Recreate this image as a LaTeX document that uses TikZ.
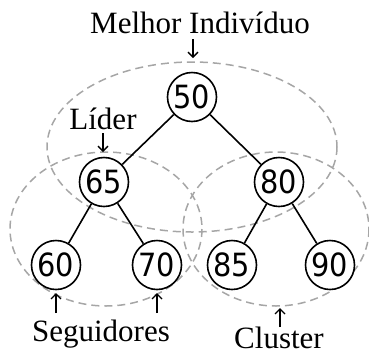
\documentclass[tikz,border=0pt]{standalone}
\usepackage{fontspec}
\setmainfont{Liberation Serif}
\newfontfamily\numfont[FakeStretch=0.9]{DejaVu Sans}
\usetikzlibrary{arrows.meta}
\begin{document}
\begin{tikzpicture}[x=1pt,y=-1pt,
  num/.style={circle,draw=black,line width=1.6pt,fill=white,inner sep=0pt,minimum size=49pt,
    font=\numfont\fontsize{32}{32}\selectfont},
  grp/.style={draw=black!35,dash pattern=on 8pt off 5pt,line width=1.5pt},
  edge/.style={draw=black,line width=1.6pt},
  lbl/.style={anchor=base,inner sep=0pt,font=\fontsize{31}{31}\selectfont},
  ptr/.style={draw=black,line width=1.4pt,-{Straight Barb[length=5pt,width=10pt]}}]
\useasboundingbox (0,0) rectangle (369,354);
% groups
\draw[grp] (192,147) ellipse [x radius=145, y radius=85];
\draw[grp] (106,229) ellipse [x radius=96, y radius=77];
\draw[grp] (276,229) ellipse [x radius=93, y radius=77];
% nodes
\node[num] (n50) at (192,97) {50};
\node[num] (n65) at (104,182) {65};
\node[num] (n80) at (279,182) {80};
\node[num] (n60) at (56,265) {60};
\node[num] (n70) at (157,265) {70};
\node[num] (n85) at (232,265) {85};
\node[num] (n90) at (330,265) {90};
% edges
\draw[edge] (n50) -- (n65);
\draw[edge] (n50) -- (n80);
\draw[edge] (n65) -- (n60);
\draw[edge] (n65) -- (n70);
\draw[edge] (n80) -- (n85);
\draw[edge] (n80) -- (n90);
% labels
\node[lbl] (best) at (200,33) {Melhor Indivíduo};
\node[lbl] (lider) at (103,129) {Líder};
\node[lbl] (seg) at (101,341) {Seguidores};
\node[lbl] (clu) at (279,348) {Cluster};
% pointers
\coordinate (b1) at (193,39); \coordinate (b2) at (193,58);
\coordinate (l1) at (103,133); \coordinate (l2) at (103,152);
\coordinate (s1) at (56,313); \coordinate (s2) at (56,293);
\coordinate (t1) at (157,313); \coordinate (t2) at (157,293);
\coordinate (c1) at (280,327); \coordinate (c2) at (280,308);
\draw[ptr] (b1) -- (b2);
\draw[ptr] (l1) -- (l2);
\draw[ptr] (s1) -- (s2);
\draw[ptr] (t1) -- (t2);
\draw[ptr] (c1) -- (c2);
\end{tikzpicture}
\end{document}
